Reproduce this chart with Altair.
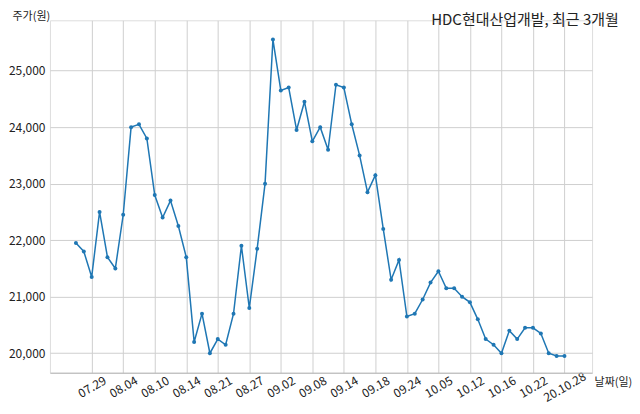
import altair as alt
import pandas as pd

dates = ["07.27", "07.28", "07.29", "07.30", "07.31", "08.03", "08.04", "08.05", "08.06", "08.07",
         "08.10", "08.11", "08.12", "08.13", "08.14", "08.18", "08.19", "08.20", "08.21", "08.24",
         "08.25", "08.26", "08.27", "08.28", "08.31", "09.01", "09.02", "09.03", "09.04", "09.07",
         "09.08", "09.09", "09.10", "09.11", "09.14", "09.15", "09.16", "09.17", "09.18", "09.21",
         "09.22", "09.23", "09.24", "09.25", "09.28", "09.29", "10.05", "10.06", "10.07", "10.08",
         "10.12", "10.13", "10.14", "10.15", "10.16", "10.19", "10.20", "10.21", "10.22", "10.23",
         "10.26", "10.27", "10.28"]
prices = [21950, 21800, 21350, 22500, 21700, 21500, 22450, 24000, 24050, 23800,
          22800, 22400, 22700, 22250, 21700, 20200, 20700, 20000, 20250, 20150,
          20700, 21900, 20800, 21850, 23000, 25550, 24650, 24700, 23950, 24450,
          23750, 24000, 23600, 24750, 24700, 24050, 23500, 22850, 23150, 22200,
          21300, 21650, 20650, 20700, 20950, 21250, 21450, 21150, 21150, 21000,
          20900, 20600, 20250, 20150, 20000, 20400, 20250, 20450, 20450, 20350,
          20000, 19950, 19950]
tick_dates = ["07.29", "08.04", "08.10", "08.14", "08.21", "08.27", "09.02", "09.08",
              "09.14", "09.18", "09.24", "10.05", "10.12", "10.16", "10.22", "10.28"]
tick_labels = ["07.29", "08.04", "08.10", "08.14", "08.21", "08.27", "09.02", "09.08",
               "09.14", "09.18", "09.24", "10.05", "10.12", "10.16", "10.22", "20.10.28"]
y_ticks = [20000, 21000, 22000, 23000, 24000, 25000]

df = pd.DataFrame({"idx": list(range(len(dates))), "date": dates, "price": prices})
tick_idx = [dates.index(d) for d in tick_dates]
label_map = " : ".join(
    f"datum.value == {i} ? '{l}'" for i, l in zip(tick_idx, tick_labels)
) + " : ''"

FONT = "Noto Sans CJK KR"
COLOR = "#1f77b4"

x = alt.X(
    "idx:Q",
    scale=alt.Scale(domain=[-3.3, 65.5], nice=False, zero=False),
    axis=alt.Axis(
        values=tick_idx,
        labelExpr=label_map,
        labelAngle=-30,
        labelAlign="center",
        labelBaseline="middle",
        labelPadding=14,
        labelOverlap=False,
        labelBound=False,
        ticks=False,
        domain=True,
        domainColor="#b5b5b5",
        domainWidth=1,
        grid=True,
        gridColor="#cfcfcf",
        gridWidth=1,
        labelFont=FONT,
        labelFontSize=12,
        labelColor="#222222",
        title="날짜(일)",
        titleFont=FONT,
        titleFontSize=11,
        titleFontWeight="normal",
        titleColor="#222222",
        titleAngle=0,
        titleAlign="left",
        titleBaseline="middle",
        titleX=545,
        titleY=10,
    ),
)
y = alt.Y(
    "price:Q",
    scale=alt.Scale(domain=[19655, 25890], nice=False, zero=False),
    axis=alt.Axis(
        values=y_ticks,
        format=",d",
        ticks=False,
        domain=False,
        grid=True,
        gridColor="#cfcfcf",
        gridWidth=1,
        labelFont=FONT,
        labelFontSize=12,
        labelColor="#222222",
        labelPadding=5,
        labelOverlap=False,
        title="주가(원)",
        titleFont=FONT,
        titleFontSize=11,
        titleFontWeight="normal",
        titleColor="#222222",
        titleAngle=0,
        titleAlign="left",
        titleBaseline="middle",
        titleX=-38,
        titleY=-4,
    ),
)

line = alt.Chart(df).mark_line(color=COLOR, strokeWidth=1.5).encode(x=x, y=y)
pts = alt.Chart(df).mark_point(color=COLOR, filled=True, size=16, opacity=1).encode(x=x, y=y)

chart = (
    alt.layer(line, pts)
    .properties(
        width=543,
        height=353,
        padding={"left": 42, "top": 12, "right": 40, "bottom": 33},
        autosize=alt.AutoSizeParams(type="none"),
        title=alt.TitleParams(
            "HDC현대산업개발, 최근 3개월",
            anchor="end",
            font=FONT,
            fontSize=15,
            fontWeight="normal",
            color="#222222",
            dx=-13,
            dy=22,
        ),
    )
    .configure_view(stroke=None)
    .configure(background="white")
)

chart.save("out.html", embed_options={"renderer": "svg", "actions": False})
